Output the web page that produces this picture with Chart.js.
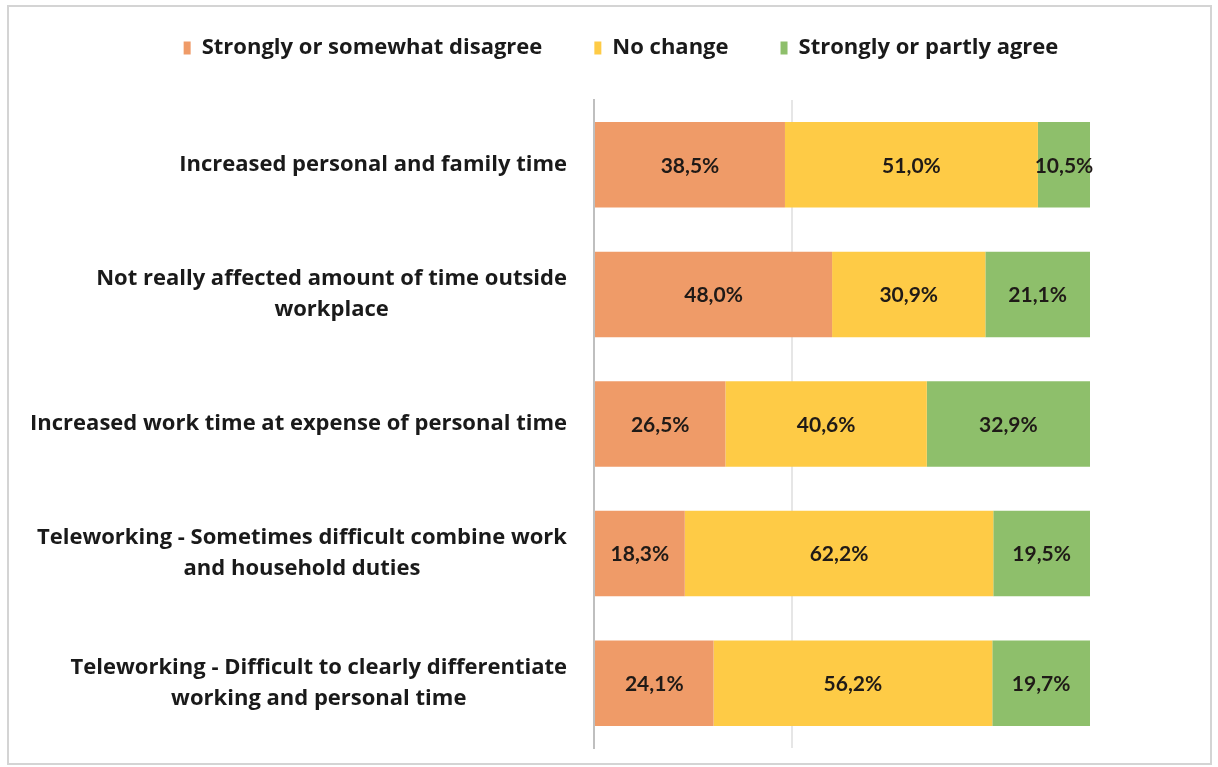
<!DOCTYPE html>
<html>
<head>
<meta charset="utf-8">
<script src="https://cdn.jsdelivr.net/npm/chart.js@4"></script>
<style>
html,body{margin:0;padding:0;background:#fff;}
#wrap{position:relative;width:1218px;height:767px;}
</style>
</head>
<body>
<div id="wrap"><canvas id="c" width="1218" height="767"></canvas></div>
<script>
const categories = [
  ["Increased personal and family time"],
  ["Not really affected amount of time outside", "workplace"],
  ["Increased work time at expense of personal time"],
  ["Teleworking - Sometimes difficult combine work", "and household duties"],
  ["Teleworking - Difficult to clearly differentiate", "working and personal time"]
];
const seriesNames = ["Strongly or somewhat disagree", "No change", "Strongly or partly agree"];
const disagree = [38.5, 48.0, 26.5, 18.3, 24.1];
const noChange = [51.0, 30.9, 40.6, 62.2, 56.2];
const agree = [10.5, 21.1, 32.9, 19.5, 19.7];
const colors = ["#EF9B68", "#FECB46", "#8EBF6B"];

const TEXT_FONT = "'Open Sans'";
const NUM_FONT = "Lato";

const frame = {
  id: 'frame',
  beforeDraw(chart) {
    const ctx = chart.ctx;
    ctx.save();
    ctx.fillStyle = '#fff';
    ctx.fillRect(0, 0, chart.width, chart.height);
    ctx.strokeStyle = '#d4d4d4';
    ctx.lineWidth = 2;
    ctx.strokeRect(8, 6, 1203, 758);
    ctx.restore();
  }
};

const legendFix = {
  id: 'legendFix',
  beforeInit(chart) {
    const fit = chart.legend.fit;
    chart.legend.fit = function () {
      fit.bind(chart.legend)();
      this.height = 115;
    };
  },
  afterLayout(chart) {
    chart.legend.left += 76;
    chart.legend.right += 76;
  }
};

const yLabels = {
  id: 'yLabels',
  afterDraw(chart) {
    const ctx = chart.ctx;
    const ys = chart.scales.y;
    ctx.save();
    ctx.font = 'bold 22px ' + TEXT_FONT;
    ctx.fillStyle = '#1a1a1a';
    ctx.textAlign = 'center';
    ctx.textBaseline = 'middle';
    const right = 567;
    const lh = 31;
    categories.forEach((lines, i) => {
      const cy = ys.getPixelForTick(i);
      const w = Math.max(...lines.map(l => ctx.measureText(l).width));
      const cx = right - w / 2;
      const y0 = cy - (lines.length - 1) * lh / 2;
      lines.forEach((l, j) => ctx.fillText(l, cx, y0 + j * lh));
    });
    ctx.restore();
  }
};

const dataLabels = {
  id: 'dataLabels',
  afterDatasetsDraw(chart) {
    const ctx = chart.ctx;
    ctx.save();
    ctx.font = 'bold 21px ' + NUM_FONT;
    ctx.fillStyle = '#1f1a17';
    ctx.textAlign = 'center';
    ctx.textBaseline = 'middle';
    chart.data.datasets.forEach((ds, di) => {
      const meta = chart.getDatasetMeta(di);
      meta.data.forEach((bar, i) => {
        const v = ds.data[i];
        const x = (bar.x + bar.base) / 2;
        ctx.fillText(v.toFixed(1).replace('.', ',') + '%', x, bar.y + 1);
      });
    });
    ctx.restore();
  }
};

new Chart(document.getElementById('c'), {
  type: 'bar',
  data: {
    labels: categories,
    datasets: [
      { label: seriesNames[0], data: disagree, backgroundColor: colors[0] },
      { label: seriesNames[1], data: noChange, backgroundColor: colors[1] },
      { label: seriesNames[2], data: agree, backgroundColor: colors[2] }
    ]
  },
  options: {
    indexAxis: 'y',
    responsive: false,
    animation: false,
    devicePixelRatio: 1,
    layout: { padding: { top: -15, right: 128, bottom: 19, left: 0 } },
    datasets: { bar: { categoryPercentage: 1, barPercentage: 0.66, borderWidth: 0 } },
    scales: {
      x: {
        stacked: true, min: 0, max: 100,
        ticks: { display: false, stepSize: 20 },
        border: { display: false },
        grid: {
          drawTicks: false,
          color: ctx => (ctx.tick && ctx.tick.value === 40) ? '#e6e6e6' : 'rgba(0,0,0,0)',
          lineWidth: 2
        }
      },
      y: {
        stacked: true,
        ticks: { display: false },
        grid: { display: false, drawTicks: false },
        border: { display: true, color: '#bfbfbf', width: 2 },
        afterFit(scale) { scale.width = 594; }
      }
    },
    plugins: {
      legend: {
        position: 'top',
        labels: {
          font: { family: "'Open Sans'", size: 22, weight: 'bold' },
          color: '#1a1a1a',
          boxWidth: 7,
          boxHeight: 13,
          padding: 52
        }
      },
      tooltip: { enabled: false }
    }
  },
  plugins: [frame, legendFix, yLabels, dataLabels]
});
</script>
</body>
</html>
